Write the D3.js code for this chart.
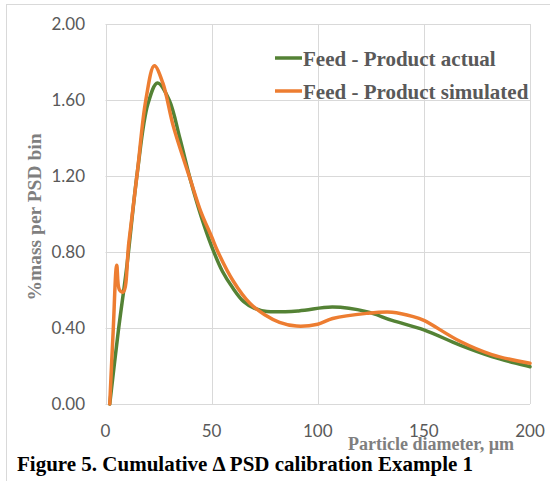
<!DOCTYPE html>
<html>
<head>
<meta charset="utf-8">
<script src="https://cdn.jsdelivr.net/npm/d3@7"></script>
<style>
  body { margin: 0; background: #fff; }
  svg { display: block; }
</style>
</head>
<body>
<svg id="chart" width="550" height="481"></svg>
<script>
// series (x = particle diameter µm, y = %mass per bin)
const actual = [
  [2, 0], [6, 0.38], [10, 0.72], [15, 1.22], [20, 1.58], [24.5, 1.69], [30, 1.6],
  [35, 1.4], [40, 1.18], [45, 0.99], [50, 0.83], [55, 0.7], [60, 0.61], [65, 0.54],
  [70, 0.505], [76, 0.487], [91, 0.49], [107, 0.51], [123, 0.486], [135, 0.44],
  [150, 0.39], [167, 0.31], [182, 0.25], [200, 0.196]
];
const simulated = [
  [2, 0], [3.6, 0.38], [5.3, 0.73], [6.6, 0.6], [8.4, 0.59], [11, 0.85], [15, 1.22],
  [19, 1.6], [23, 1.78], [27, 1.69], [32, 1.46], [40, 1.18], [45, 1.01], [50, 0.88],
  [53, 0.8], [60, 0.65], [68, 0.53], [75, 0.47], [82, 0.43], [90, 0.41], [100, 0.42],
  [107, 0.45], [123, 0.477], [135, 0.483], [145, 0.46], [150, 0.44], [167, 0.33],
  [182, 0.26], [200, 0.214]
];
const seriesNames = ["Feed - Product actual", "Feed - Product simulated"];
const seriesColors = ["#548235", "#ed7d31"];
const xTicks = [0, 50, 100, 150, 200];
const yTicks = [0, 0.4, 0.8, 1.2, 1.6, 2.0];

const serif = "'Liberation Serif', 'Times New Roman', serif";
const sans = "Lato, 'Open Sans', sans-serif";

const svg = d3.select("#chart");

// outer chart frame (cut off at right and bottom like the source image)
svg.append("rect")
  .attr("x", 6.5).attr("y", 4.5)
  .attr("width", 600).attr("height", 600)
  .attr("fill", "none").attr("stroke", "#d9d9d9");

const x = d3.scaleLinear().domain([0, 200]).range([105.5, 530]);
const y = d3.scaleLinear().domain([0, 2]).range([404, 24]);

// gridlines
svg.append("g")
  .selectAll("line")
  .data(yTicks)
  .join("line")
  .attr("x1", x(0)).attr("x2", x(200))
  .attr("y1", d => Math.round(y(d)) + 0.5).attr("y2", d => Math.round(y(d)) + 0.5)
  .attr("stroke", "#d9d9d9").attr("stroke-width", 1);

svg.append("g")
  .selectAll("line")
  .data(xTicks)
  .join("line")
  .attr("x1", d => Math.round(x(d)) + 0.5).attr("x2", d => Math.round(x(d)) + 0.5)
  .attr("y1", y(0)).attr("y2", y(2))
  .attr("stroke", "#d9d9d9").attr("stroke-width", 1);

// tick labels
svg.append("g")
  .selectAll("text")
  .data(yTicks)
  .join("text")
  .attr("x", 85)
  .attr("y", d => y(d) + 6)
  .attr("text-anchor", "end")
  .attr("font-family", sans)
  .attr("font-size", 17)
  .attr("fill", "#595959")
  .text(d => d.toFixed(2));

svg.append("g")
  .selectAll("text")
  .data(xTicks)
  .join("text")
  .attr("x", d => x(d))
  .attr("y", 437)
  .attr("text-anchor", "middle")
  .attr("font-family", sans)
  .attr("font-size", 17)
  .attr("fill", "#595959")
  .text(d => d);

// lines
const line = d3.line()
  .x(d => x(d[0]))
  .y(d => y(d[1]))
  .curve(d3.curveCatmullRom.alpha(0.5));

[actual, simulated].forEach((data, i) => {
  svg.append("path")
    .datum(data)
    .attr("fill", "none")
    .attr("stroke", seriesColors[i])
    .attr("stroke-width", 3.5)
    .attr("stroke-linejoin", "round")
    .attr("stroke-linecap", "round")
    .attr("d", line);
});

// legend
const legend = svg.append("g");
seriesNames.forEach((name, i) => {
  const ly = 58 + i * 33;
  legend.append("line")
    .attr("x1", 275).attr("x2", 302)
    .attr("y1", ly).attr("y2", ly)
    .attr("stroke", seriesColors[i]).attr("stroke-width", 3.5);
  legend.append("text")
    .attr("x", 303).attr("y", ly + 8)
    .attr("font-family", serif)
    .attr("font-weight", "bold")
    .attr("font-size", 21)
    .attr("fill", "#595959")
    .text(name);
});

// axis titles
svg.append("text")
  .attr("transform", "translate(41,217) rotate(-90)")
  .attr("text-anchor", "middle")
  .attr("font-family", serif)
  .attr("font-weight", "bold")
  .attr("font-size", 19.5)
  .attr("fill", "#7f7f7f")
  .text("%mass per PSD bin");

svg.append("text")
  .attr("x", 431).attr("y", 450)
  .attr("text-anchor", "middle")
  .attr("font-family", serif)
  .attr("font-weight", "bold")
  .attr("font-size", 18)
  .attr("fill", "#7f7f7f")
  .text("Particle diameter, µm");

// figure caption
svg.append("text")
  .attr("x", 17).attr("y", 471)
  .attr("font-family", serif)
  .attr("font-weight", "bold")
  .attr("font-size", 21)
  .attr("fill", "#000")
  .text("Figure 5. Cumulative Δ PSD calibration Example 1");
</script>
</body>
</html>
